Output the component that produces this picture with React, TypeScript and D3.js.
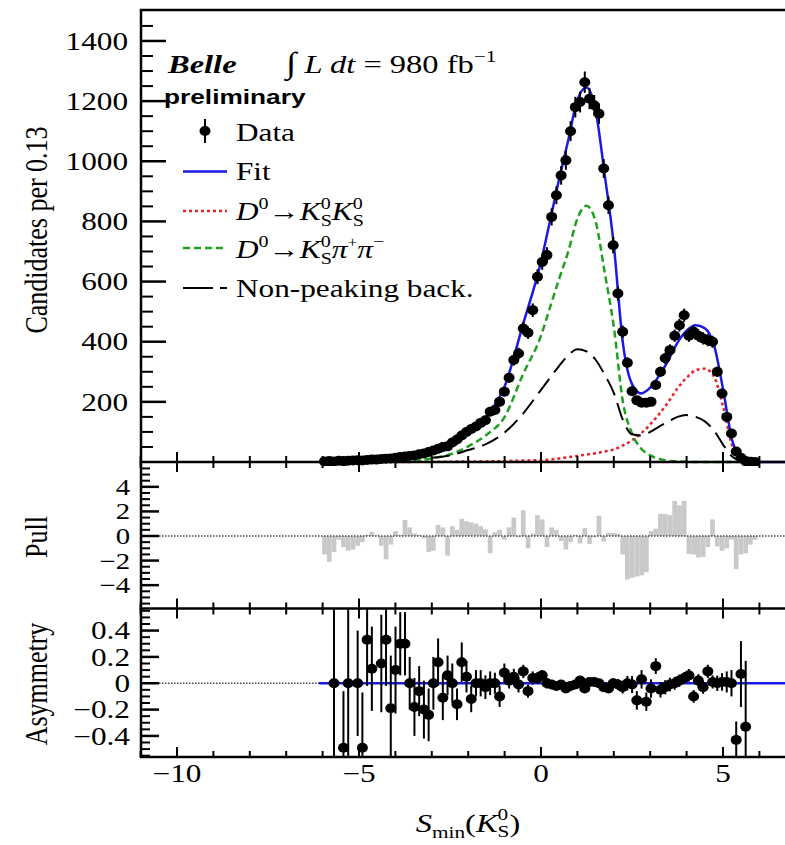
import React, { useEffect, useRef } from 'react';
import * as d3 from 'd3';

const W = 785;
const H = 845;

// binning of S_min(K0s): 92 bins of 0.13
const binStart = -6.012;
const binWidth = 0.13;

const candidates = [
  2, 3, 2, 4, 3, 4, 5, 6, 5, 7,
  8, 8, 10, 11, 12, 14, 17, 18, 20, 22,
  26, 28, 33, 38, 44, 50, 52, 65, 75, 88,
  100, 110, 118, 130, 139, 167, 173, 200, 234, 280,
  339, 361, 444, 430, 505, 616, 665, 688, 815, 887,
  953, 1003, 1100, 1180, 1197, 1263, 1208, 1186, 1158, 976,
  854, 721, 560, 433, 330, 235, 205, 197, 197, 200,
  256, 300, 345, 372, 420, 455, 488, 420, 433, 420,
  411, 405, 400, 300, 228, 150, 95, 35, 14, 3,
  1, 0
];

const pulls = [
  -1.5, -2.1, -1.3, -0.3, -0.9, -1.2, -1.1, -0.8, -0.5, 0.1,
  0.35, 0.05, -0.8, -1.9, -0.7, 0.4, 0.1, 1.3, 0.7, 0.2,
  0.1, -0.2, -1.3, -1.2, 0.9, 0.7, -1.6, 0.8, 0.5, 1.4,
  1.2, 1.1, 1.0, 0.8, 0.55, -1.4, 0.3, 0.5, -0.3, 0.7,
  1.5, -0.1, 2.1, -1.0, 0.2, 1.7, 1.35, -0.9, 0.7, 0.5,
  -0.4, -1.1, -0.5, 0.1, -0.6, 0.65, -0.65, -0.1, 1.65, -0.45,
  0.25, 0.25, 0.2, -1.5, -3.55, -3.4, -3.3, -3.2, -2.95, 0.4,
  0.6, 1.8, 1.8, 1.7, 2.85, 2.5, 2.85, -1.45, -1.5, -1.75,
  -1.7, -0.9, 1.35, -0.85, -1.2, -1.0, -0.3, -2.7, -1.5, -1.4,
  -0.7, -0.3
];

const asym = [
  null, null, 0, null, -0.49, 0, null, 0, -0.49, 0.33,
  0.11, null, 0.15, 0.33, -0.19, 0.10, 0.30, 0.30, 0, -0.18,
  -0.06, -0.2, -0.24, 0, 0.16, -0.11, 0.06, 0, -0.16, 0.16,
  0.05, -0.12, 0, 0, -0.03, 0, 0, -0.10, 0.08, 0.02,
  0.05, -0.01, 0.09, -0.06, 0.04, 0.04, 0.06, 0, -0.01, -0.02,
  -0.01, -0.04, -0.02, -0.01, 0.02, -0.04, 0.01, 0.01, 0, -0.03,
  -0.04, 0, -0.01, -0.03, 0, -0.01, -0.13, 0.03, -0.14, -0.04,
  0.13, -0.05, -0.03, -0.01, 0, 0.02, 0.04, 0.06, -0.10, 0.02,
  -0.03, 0.09, 0.01, 0, 0.01, 0.01, 0, -0.43, 0.07, -0.33,
  null, null
];

const asymErr = [
  0, 0, 0.8, 0, 0.43, 0.8, 0, 0.4, 0.42, 0.35,
  0.32, 0, 0.37, 0.35, 0.4, 0.33, 0.24, 0.24, 0.2, 0.22,
  0.19, 0.22, 0.2, 0.2, 0.18, 0.17, 0.15, 0.15, 0.12, 0.15,
  0.12, 0.1, 0.1, 0.1, 0.09, 0.09, 0.08, 0.08, 0.07, 0.06,
  0.06, 0.06, 0.05, 0.05, 0.05, 0.045, 0.04, 0.04, 0.035, 0.033,
  0.032, 0.031, 0.03, 0.029, 0.029, 0.028, 0.029, 0.029, 0.03, 0.032,
  0.034, 0.037, 0.042, 0.048, 0.055, 0.065, 0.07, 0.07, 0.07, 0.07,
  0.06, 0.058, 0.054, 0.052, 0.049, 0.047, 0.045, 0.048, 0.048, 0.049,
  0.05, 0.05, 0.05, 0.058, 0.066, 0.08, 0.1, 0.14, 0.25, 0.5,
  0, 0
];

// fit components sampled along S_min
const curveX = [-6.1, -5.5, -5, -4.5, -4, -3.5, -3, -2.5, -2, -1.5, -1, -0.5, 0,
  0.25, 0.5, 0.75, 1, 1.25, 1.5, 1.75, 2, 2.25, 2.5, 2.75, 3, 3.25, 3.5, 3.75, 4,
  4.25, 4.5, 4.75, 5, 5.25, 5.5, 5.75, 6, 6.5, 7];
const ksks = [0, 0, 0, 0, 0, 0.5, 1, 1, 2, 2, 3, 5, 6,
  8, 12, 16, 20, 25, 29, 35, 42, 55, 72, 95, 125, 160, 200, 245, 280,
  305, 310, 285, 185, 55, 12, 1, 0, 0, 0];
const kspipi = [0, 0, 0, 1, 2, 5, 12, 25, 52, 90, 150, 290, 420,
  515, 610, 700, 810, 852, 800, 630, 450, 200, 95, 45, 22, 10, 4, 2, 1,
  0, 0, 0, 0, 0, 0, 0, 0, 0, 0];
const nonPeaking = [2, 3, 4, 6, 8, 10, 14, 22, 40, 60, 98, 160, 240,
  280, 320, 355, 375, 368, 340, 290, 230, 140, 92, 88, 100, 118, 135, 150, 156,
  150, 135, 105, 58, 18, 3, 0, 0, 0, 0];

const xMajor = [-10, -5, 0, 5];
const topMajor = [200, 400, 600, 800, 1000, 1200, 1400];
const pullMajor = [-4, -2, 0, 2, 4];
const asymMajor = [-0.4, -0.2, 0, 0.2, 0.4];

const SX = 1.25; // the original is stretched horizontally
const serif = '"Liberation Serif", "Times New Roman", serif';
const sans = '"Liberation Sans", Arial, sans-serif';
const fmt = (v: number) => (v < 0 ? '\u2212' : '') + String(Math.abs(v));

type Part = { t: string; it?: boolean; sz?: number; dx?: number; dy?: number };

export default function App() {
  const ref = useRef<SVGSVGElement>(null);

  useEffect(() => {
    const svg = d3.select(ref.current);
    svg.selectAll('*').remove();

    const left = 141;
    const x = d3.scaleLinear().domain([-11, 7]).range([140.6, 795.8]);
    const yTop = d3.scaleLinear().domain([0, 1500]).range([462, 10.9]);
    const yPull = d3.scaleLinear().domain([-5.9, 5.9]).range([608.5, 463.5]);
    const yAsym = d3.scaleLinear().domain([-0.56, 0.56]).range([757, 609.5]);

    svg.append('rect').attr('width', W).attr('height', H).attr('fill', '#fff');

    const defs = svg.append('defs');
    const clip = (id: string, y0: number, y1: number) =>
      defs.append('clipPath').attr('id', id).append('rect')
        .attr('x', left).attr('y', y0).attr('width', W - left).attr('height', y1 - y0);
    clip('cTop', 10, 466);
    clip('cPull', 463, 608);
    clip('cAsym', 609, 757);

    const text = (parent: any, tx: number, ty: number, anchor = 'start', size = 25) =>
      parent.append('g').attr('transform', `translate(${tx},${ty}) scale(${SX},1)`)
        .append('text').attr('font-family', serif).attr('font-size', size)
        .attr('text-anchor', anchor).attr('fill', '#000');
    const rich = (t: any, parts: Part[]) => parts.forEach(p => {
      const s = t.append('tspan').text(p.t);
      if (p.it) s.attr('font-style', 'italic');
      if (p.sz) s.attr('font-size', p.sz);
      if (p.dx) s.attr('dx', p.dx);
      if (p.dy) s.attr('dy', p.dy);
    });
    const vtext = (tx: number, ty: number, s: string) =>
      svg.append('g').attr('transform', `translate(${tx},${ty}) rotate(-90) scale(1,${SX})`)
        .append('text').attr('font-family', serif).attr('font-size', 26)
        .attr('text-anchor', 'middle').text(s);

    // ---- top panel: fit components
    const idx = (lo: number, hi: number) => curveX.map((_, i) => i).filter(i => curveX[i] >= lo && curveX[i] <= hi);
    const fitSum = curveX.map((_, i) => ksks[i] + kspipi[i] + nonPeaking[i]);
    const curve = (arr: number[]) => d3.line<number>()
      .x(i => x(curveX[i])).y(i => yTop(arr[i])).curve(d3.curveMonotoneX);
    const top = svg.append('g').attr('clip-path', 'url(#cTop)');
    top.append('path').attr('d', curve(ksks)(idx(-4, 6)))
      .attr('fill', 'none').attr('stroke', '#e8232a').attr('stroke-width', 2.5).attr('stroke-dasharray', '3 3');
    top.append('path').attr('d', curve(kspipi)(idx(-3.5, 6)))
      .attr('fill', 'none').attr('stroke', '#1fa01f').attr('stroke-width', 2.5).attr('stroke-dasharray', '7 4');
    top.append('path').attr('d', curve(nonPeaking)(idx(-3, 6)))
      .attr('fill', 'none').attr('stroke', '#000').attr('stroke-width', 2).attr('stroke-dasharray', '18 8');
    top.append('path').attr('d', curve(fitSum)(idx(-6.1, 7)))
      .attr('fill', 'none').attr('stroke', '#1a1ae6').attr('stroke-width', 2.5);

    const centers = candidates.map((_, i) => binStart + binWidth * (i + 0.5));
    top.selectAll('line.err').data(candidates).join('line')
      .attr('x1', (_, i) => x(centers[i])).attr('x2', (_, i) => x(centers[i]))
      .attr('y1', d => yTop(d + Math.sqrt(d))).attr('y2', d => yTop(Math.max(0, d - Math.sqrt(d))))
      .attr('stroke', '#000').attr('stroke-width', 2);
    top.selectAll('ellipse').data(candidates).join('ellipse')
      .attr('cx', (_, i) => x(centers[i])).attr('cy', d => yTop(d))
      .attr('rx', 5.5).attr('ry', 5).attr('fill', '#000');

    // ---- pull panel
    const pull = svg.append('g').attr('clip-path', 'url(#cPull)');
    pull.selectAll('rect').data(pulls).join('rect')
      .attr('x', (_, i) => x(binStart + binWidth * i))
      .attr('width', x(binStart + binWidth) - x(binStart))
      .attr('y', d => Math.min(yPull(d), yPull(0)))
      .attr('height', d => Math.abs(yPull(d) - yPull(0)))
      .attr('fill', '#c9c9c9');
    pull.append('line').attr('x1', left).attr('x2', W).attr('y1', yPull(0)).attr('y2', yPull(0))
      .attr('stroke', '#444').attr('stroke-width', 1.5).attr('stroke-dasharray', '1.5 1.5');

    // ---- asymmetry panel
    const as = svg.append('g').attr('clip-path', 'url(#cAsym)');
    as.append('line').attr('x1', left).attr('x2', W).attr('y1', yAsym(0)).attr('y2', yAsym(0))
      .attr('stroke', '#444').attr('stroke-width', 1.5).attr('stroke-dasharray', '1.5 1.5');
    as.append('line').attr('x1', x(-6.1)).attr('x2', W).attr('y1', yAsym(0)).attr('y2', yAsym(0))
      .attr('stroke', '#1a1ae6').attr('stroke-width', 2.5);
    const asPts = asym.map((v, i) => ({ v, e: asymErr[i], c: centers[i] })).filter(d => d.v !== null);
    as.selectAll('line.err').data(asPts).join('line')
      .attr('x1', d => x(d.c)).attr('x2', d => x(d.c))
      .attr('y1', d => yAsym((d.v as number) + d.e)).attr('y2', d => yAsym((d.v as number) - d.e))
      .attr('stroke', '#000').attr('stroke-width', 2);
    as.selectAll('ellipse').data(asPts).join('ellipse')
      .attr('cx', d => x(d.c)).attr('cy', d => yAsym(d.v as number))
      .attr('rx', 5.5).attr('ry', 5).attr('fill', '#000');

    // ---- frame and ticks
    const frame = svg.append('g').attr('stroke', '#000').attr('stroke-width', 2.5);
    frame.append('line').attr('x1', left).attr('x2', left).attr('y1', 10).attr('y2', 757);
    [10, 462, 608.5, 757].forEach(yy =>
      frame.append('line').attr('x1', left - 1.2).attr('x2', W).attr('y1', yy).attr('y2', yy));

    const xMinor = d3.range(-11, 8).filter(v => !xMajor.includes(v));
    const xTicks = (yy: number, up: boolean, down: boolean) => {
      const draw = (vals: number[], len: number) => vals.forEach(v =>
        frame.append('line').attr('x1', x(v)).attr('x2', x(v))
          .attr('y1', up ? yy - len : yy).attr('y2', down ? yy + len : yy).attr('stroke-width', 2));
      draw(xMajor, 10);
      draw(xMinor, 6);
    };
    xTicks(462, true, true);
    xTicks(608.5, true, true);
    xTicks(757, true, false);

    const yTicks = (scale: any, major: number[], minor: number[], lmaj: number, lmin: number) => {
      major.forEach(v => frame.append('line').attr('x1', left).attr('x2', left + lmaj)
        .attr('y1', scale(v)).attr('y2', scale(v)));
      minor.forEach(v => frame.append('line').attr('x1', left).attr('x2', left + lmin)
        .attr('y1', scale(v)).attr('y2', scale(v)).attr('stroke-width', 2));
    };
    yTicks(yTop, topMajor, d3.range(50, 1500, 50).filter(v => v % 200 !== 0), 25, 12);
    yTicks(yPull, pullMajor, d3.range(-5.5, 5.51, 0.5).filter(v => Math.abs(v % 2) > 0.01), 18, 9);
    yTicks(yAsym, asymMajor, d3.range(-11, 12).map(k => k * 0.05).filter(v => Math.abs(Math.round(v * 100)) % 20 !== 0), 18, 9);

    // tick labels
    topMajor.forEach(v => text(svg, 128, yTop(v), 'end').attr('dy', '0.35em').text(String(v)));
    pullMajor.forEach(v => text(svg, 130, yPull(v), 'end', 23).attr('dy', '0.35em').text(fmt(v)));
    asymMajor.forEach(v => text(svg, 130, yAsym(v), 'end').attr('dy', '0.35em').text(fmt(v)));
    xMajor.forEach(v => text(svg, x(v), 782, 'middle').text(fmt(v)));

    // axis titles
    vtext(47, 230, 'Candidates per 0.13');
    vtext(47, 537, 'Pull');
    vtext(47, 684, 'Asymmetry');
    rich(text(svg, 468, 832, 'middle', 26), [
      { t: 'S', it: true }, { t: 'min', sz: 17, dy: 6 }, { t: '(', dy: -6 }, { t: 'K', it: true },
      { t: '0', sz: 17, dy: -12 }, { t: 'S', sz: 17, dx: -8.5, dy: 17 }, { t: ')', dy: -5 }
    ]);

    // annotations
    text(svg, 168, 73, 'start', 26).attr('font-weight', 'bold').attr('font-style', 'italic').text('Belle');
    rich(text(svg, 286, 73, 'start', 26), [
      { t: '\u222B', sz: 30 }, { t: ' L dt', it: true }, { t: ' = 980 fb' }, { t: '\u22121', sz: 17, dy: -11 }
    ]);
    text(svg, 164, 104, 'start', 21).attr('font-family', sans).attr('font-weight', 'bold').text('preliminary');

    // legend
    const lx0 = 183, lx1 = 227, tx = 236;
    svg.append('line').attr('x1', 205).attr('x2', 205).attr('y1', 119).attr('y2', 143)
      .attr('stroke', '#000').attr('stroke-width', 2);
    svg.append('ellipse').attr('cx', 205).attr('cy', 131).attr('rx', 5.5).attr('ry', 5).attr('fill', '#000');
    text(svg, tx, 141).text('Data');
    const legLine = (yy: number, color: string, dash: string | null, w: number) => {
      const l = svg.append('line').attr('x1', lx0).attr('x2', lx1).attr('y1', yy).attr('y2', yy)
        .attr('stroke', color).attr('stroke-width', w);
      if (dash) l.attr('stroke-dasharray', dash);
    };
    legLine(171.5, '#1a1ae6', null, 2.5);
    text(svg, tx, 180).text('Fit');
    legLine(211, '#e8232a', '3 3', 2.5);
    rich(text(svg, tx, 220), [
      { t: 'D', it: true }, { t: '0', sz: 16, dy: -11 }, { t: '\u2192', dy: 11 }, { t: 'K', it: true },
      { t: '0', sz: 16, dy: -11 }, { t: 'S', sz: 16, dx: -8, dy: 17 }, { t: 'K', it: true, dy: -6 },
      { t: '0', sz: 16, dy: -11 }, { t: 'S', sz: 16, dx: -8, dy: 17 }
    ]);
    legLine(248, '#1fa01f', '7 4', 2.5);
    rich(text(svg, tx, 258), [
      { t: 'D', it: true }, { t: '0', sz: 16, dy: -11 }, { t: '\u2192', dy: 11 }, { t: 'K', it: true },
      { t: '0', sz: 16, dy: -11 }, { t: 'S', sz: 16, dx: -8, dy: 17 }, { t: '\u03C0', it: true, dy: -6 },
      { t: '+', sz: 14, dy: -11 }, { t: '\u03C0', it: true, dy: 11 }, { t: '\u2212', sz: 16, dy: -11 }
    ]);
    legLine(288, '#000', '30 7', 2);
    text(svg, tx, 297).text('Non-peaking back.');
  }, []);

  return (
    <svg ref={ref} width={W} height={H}
      style={{ position: 'absolute', left: 0, top: 0, background: '#fff' }} />
  );
}
